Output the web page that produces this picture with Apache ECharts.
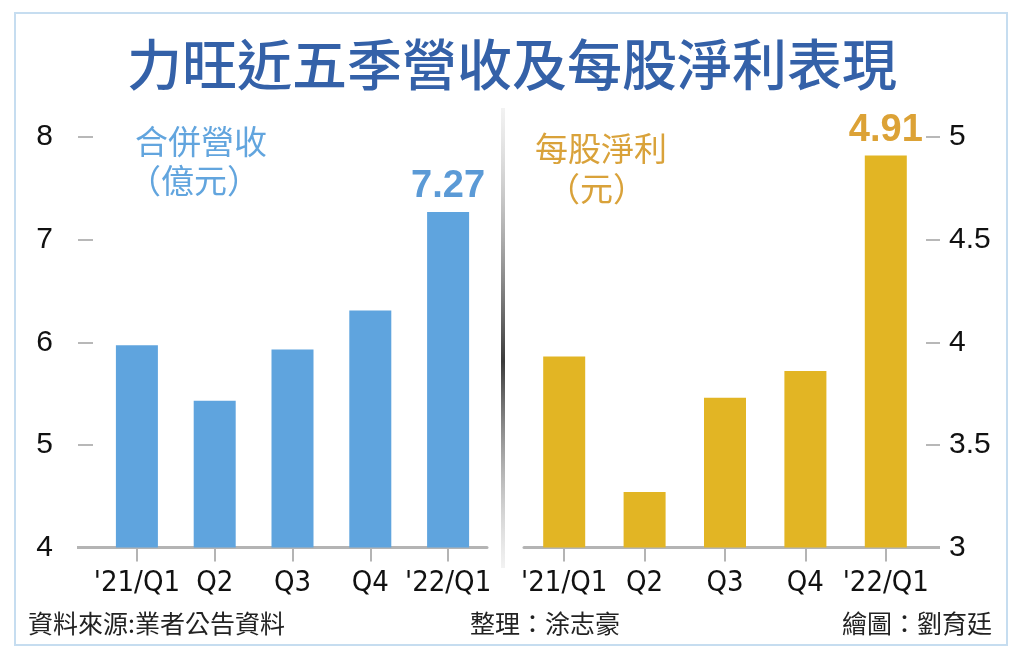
<!DOCTYPE html>
<html>
<head>
<meta charset="utf-8">
<script src="https://cdn.jsdelivr.net/npm/echarts@6/dist/echarts.min.js"></script>
<style>
  html, body { margin: 0; padding: 0; background: #fff; }
  #main { width: 1024px; height: 658px; }
</style>
</head>
<body>
<div id="main"></div>
<script>
// 資料
var quarters = ["'21/Q1", 'Q2', 'Q3', 'Q4', "'22/Q1"];
var revenue = [5.97, 5.43, 5.93, 6.31, 7.27];   // 合併營收(億元)
var eps = [3.93, 3.27, 3.73, 3.86, 4.91];       // 每股淨利(元)
var revTicks = [4, 5, 6, 7, 8];
var epsTicks = [3, 3.5, 4, 4.5, 5];

var BLUE = '#5fa4de';
var GOLD = '#e2b524';
var CJK = '"Noto Sans CJK TC", "Noto Sans CJK SC", sans-serif';
var NARROW = '"Liberation Sans Narrow", "DejaVu Sans Condensed", "Liberation Sans", sans-serif';

var chart = echarts.init(document.getElementById('main'));

// 只在最後一根標數值
function withLastLabel(arr, color) {
    return arr.map(function (v, i) {
        if (i !== arr.length - 1) return v;
        return {
            value: v,
            label: {
                show: true, position: 'top', distance: 6,
                color: color, fontSize: 38, fontWeight: 'bold',
                fontFamily: '"Liberation Sans", Arial, sans-serif'
            }
        };
    });
}

function xAxisOf(idx) {
    return {
        type: 'category',
        gridIndex: idx,
        data: quarters,
        axisLine: { show: true, lineStyle: { color: '#b4b4b4', width: 3 } },
        axisTick: { show: true, alignWithLabel: true, length: 14, lineStyle: { color: '#b4b4b4', width: 2 } },
        axisLabel: { interval: 0, color: '#111', fontSize: 29, fontFamily: NARROW, margin: 21 }
    };
}

var options = {
    backgroundColor: '#fff',
    animation: false,
    title: {
        text: '力旺近五季營收及每股淨利表現',
        left: 'center', top: 32,
        textStyle: { color: '#3461a8', fontSize: 55, fontWeight: 500, fontFamily: CJK }
    },
    grid: [
        { left: 98, right: 537, top: 137, bottom: 110.5 },
        { left: 524, right: 98, top: 137, bottom: 110.5 }
    ],
    xAxis: [xAxisOf(0), xAxisOf(1)],
    yAxis: [
        {
            type: 'value', gridIndex: 0,
            min: revTicks[0], max: revTicks[revTicks.length - 1], interval: 1,
            offset: 20,
            axisLine: { show: true, lineStyle: { opacity: 0 } },
            axisTick: { show: true, inside: true, length: 15, lineStyle: { color: '#b8b8b8', width: 2 } },
            splitLine: { show: false },
            axisLabel: { color: '#111', fontSize: 30, margin: 25, fontFamily: '"Liberation Sans", Arial, sans-serif' }
        },
        {
            type: 'value', gridIndex: 1, position: 'right',
            min: epsTicks[0], max: epsTicks[epsTicks.length - 1], interval: 0.5,
            axisLine: { show: true, lineStyle: { opacity: 0 } },
            axisTick: { show: true, length: 14, lineStyle: { color: '#b8b8b8', width: 2 } },
            splitLine: { show: false },
            axisLabel: { color: '#111', fontSize: 30, margin: 23, fontFamily: '"Liberation Sans", Arial, sans-serif' }
        }
    ],
    series: [
        {
            name: '合併營收', type: 'bar', xAxisIndex: 0, yAxisIndex: 0,
            barWidth: 42, itemStyle: { color: BLUE },
            data: withLastLabel(revenue, '#5b9ad6')
        },
        {
            name: '每股淨利', type: 'bar', xAxisIndex: 1, yAxisIndex: 1,
            barWidth: 42, itemStyle: { color: GOLD },
            data: withLastLabel(eps, '#dca236')
        }
    ]
};

chart.setOption(options);

// 底線延伸、分隔線、單位、註記
var yL = chart.convertToPixel({ yAxisIndex: 0 }, revTicks[0]);
var yR = chart.convertToPixel({ yAxisIndex: 1 }, epsTicks[0]);

chart.setOption({
    graphic: [
        { type: 'rect', shape: { x: 15, y: 13, width: 992, height: 632 }, style: { fill: 'none', stroke: '#c6ddf0', lineWidth: 2 }, z: 0 },
        { type: 'line', shape: { x1: 77, y1: yL, x2: 486, y2: yL }, style: { stroke: '#b4b4b4', lineWidth: 3 }, z: 1 },
        { type: 'line', shape: { x1: 525, y1: yR, x2: 940, y2: yR }, style: { stroke: '#b4b4b4', lineWidth: 3 }, z: 1 },
        {
            type: 'line', shape: { x1: 503, y1: 108, x2: 503, y2: 568 },
            style: {
                lineWidth: 4,
                stroke: new echarts.graphic.LinearGradient(0, 0, 0, 1, [
                    { offset: 0, color: 'rgba(225,225,225,0.4)' },
                    { offset: 0.55, color: '#3a3a3a' },
                    { offset: 1, color: 'rgba(225,225,225,0.4)' }
                ])
            }, z: 1
        },
        { type: 'text', left: 135, top: 125, style: { text: '合併營收', fill: '#62a5de', fontSize: 33, fontFamily: CJK } },
        { type: 'text', left: 128, top: 164, style: { text: '（億元）', fill: '#62a5de', fontSize: 33, fontFamily: CJK } },
        { type: 'text', left: 535, top: 132, style: { text: '每股淨利', fill: '#d9a23a', fontSize: 33, fontFamily: CJK } },
        { type: 'text', left: 547, top: 172, style: { text: '（元）', fill: '#d9a23a', fontSize: 33, fontFamily: CJK } },
        { type: 'text', left: 28, top: 611, style: { text: '資料來源:業者公告資料', fill: '#222', fontSize: 25, fontFamily: CJK } },
        { type: 'text', left: 470, top: 611, style: { text: '整理：涂志豪', fill: '#222', fontSize: 25, fontFamily: CJK } },
        { type: 'text', left: 842, top: 611, style: { text: '繪圖：劉育廷', fill: '#222', fontSize: 25, fontFamily: CJK } }
    ]
});
</script>
</body>
</html>
